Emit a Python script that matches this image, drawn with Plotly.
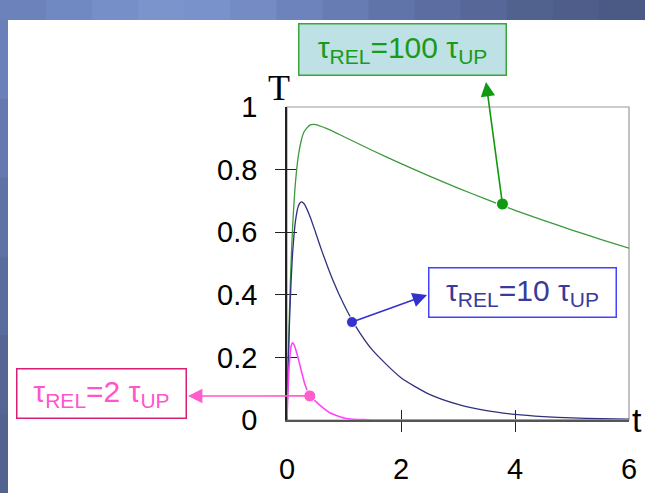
import plotly.graph_objects as go

# ---- data ----
green_t = [0, 0.01, 0.02, 0.03, 0.05, 0.07, 0.1, 0.15, 0.2, 0.25, 0.3, 0.4, 0.5, 0.7,
           1.0, 1.5, 2.0, 2.5, 3.0, 3.5, 4.0, 4.5, 5.0, 5.5, 6.0]
green_T = [0, 0.094, 0.179, 0.256, 0.389, 0.496, 0.622, 0.762, 0.845, 0.893, 0.921, 0.942,
           0.944, 0.931, 0.905, 0.861, 0.819, 0.779, 0.741, 0.705, 0.670, 0.638, 0.607,
           0.577, 0.549]

blue_t = [0, 0.01, 0.02, 0.03, 0.05, 0.07, 0.1, 0.15, 0.2, 0.25, 0.3, 0.4, 0.5, 0.6, 0.8,
          1.0, 1.2, 1.5, 2.0, 2.5, 3.0, 3.5, 4.0, 4.5, 5.0, 5.5, 6.0]
blue_T = [0, 0.085, 0.161, 0.229, 0.345, 0.435, 0.537, 0.638, 0.684, 0.697, 0.691, 0.652,
          0.600, 0.546, 0.449, 0.368, 0.301, 0.223, 0.135, 0.082, 0.050, 0.030, 0.018,
          0.011, 0.0067, 0.004, 0.0025]

pink_t = [0, 0.01, 0.02, 0.035, 0.05, 0.07, 0.1, 0.13, 0.17, 0.22, 0.31, 0.4, 0.5, 0.57,
          0.75, 1.04, 1.4, 2.0, 3.0, 4.0, 5.0, 6.0]
pink_T = [0, 0.06, 0.11, 0.165, 0.20, 0.235, 0.247, 0.238, 0.215, 0.18, 0.117, 0.077,
          0.060, 0.048, 0.023, 0.005, 0.001, 0, 0, 0, 0, 0]

dot_t = [3.78, 1.14, 0.40]
dot_T = [0.69, 0.313, 0.077]
labels = ["τ<sub>REL</sub>=100 τ<sub>UP</sub>",
          "τ<sub>REL</sub>=10 τ<sub>UP</sub>",
          "τ<sub>REL</sub>=2 τ<sub>UP</sub>"]
x_ticks = [0, 2, 4, 6]
y_ticks = [0, 0.2, 0.4, 0.6, 0.8, 1]
y_tick_text = ["0", "0.2", "0.4", "0.6", "0.8", "1"]

# ---- styling ----
W, H = 645, 493
ML, MR, MT, MB = 287, 16, 107, 73
PW, PH = W - ML - MR, H - MT - MB
FONT = "Liberation Sans, Arial, sans-serif"
EPS = 1e-4  # minor (outward) ticks sit on the major positions

def px2x(px):
    return (px - ML) / PW * 6.0

def py2y(py):
    return (H - MB - py) / PH * 1.0

def ppx(px):
    return (px - ML) / PW

def ppy(py):
    return (H - MB - py) / PH

fig = go.Figure()
fig.add_trace(go.Scatter(x=green_t, y=green_T, mode="lines", line=dict(color="#3c9a3c", width=1.3, shape="spline", smoothing=0.6), hoverinfo="skip"))
fig.add_trace(go.Scatter(x=blue_t, y=blue_T, mode="lines", line=dict(color="#30307f", width=1.3, shape="spline", smoothing=0.6), hoverinfo="skip"))
fig.add_trace(go.Scatter(x=pink_t, y=pink_T, mode="lines", line=dict(color="#ff44ff", width=1.6, shape="spline", smoothing=0.6), hoverinfo="skip"))
fig.add_trace(go.Scatter(x=dot_t, y=dot_T, mode="markers",
                         marker=dict(size=[12, 11, 12], opacity=1,
                                     color=["#119911", "#3333cc", "#ff5ccd"]),
                         hoverinfo="skip"))

shapes = []
top_cols = ["#6c82ba", "#7189c2", "#778fc8", "#7c94cc", "#7a92cb", "#748bc4", "#6d83bb",
            "#677cb3", "#6174aa", "#5b6da1", "#566798", "#52628f", "#4e5d89", "#4b5985"]
n = len(top_cols)
for i, c in enumerate(top_cols):
    shapes.append(dict(type="rect", xref="paper", yref="paper",
                       x0=ppx(i * W / n), x1=ppx((i + 1) * W / n + 1),
                       y0=ppy(20), y1=ppy(-2), fillcolor=c, line=dict(width=0), layer="below"))
left_cols = ["#6b80b8", "#6579b0", "#5f72a6", "#5a6c9e", "#556695", "#52638f"]
m = len(left_cols)
for i, c in enumerate(left_cols):
    shapes.append(dict(type="rect", xref="paper", yref="paper",
                       x0=ppx(-2), x1=ppx(8),
                       y0=ppy(20 + (i + 1) * (H - 20) / m + 1), y1=ppy(20 + i * (H - 20) / m),
                       fillcolor=c, line=dict(width=0), layer="below"))
shapes.append(dict(type="rect", xref="paper", yref="paper", x0=0, x1=1, y0=0, y1=1,
                   fillcolor="rgba(0,0,0,0)",
                   line=dict(color="#9a9a9a", width=1.2), layer="below"))

annotations = []
boxes = [
    dict(cx=402, cy=50, w=210, h=54, fc="#1a9a1a", bg="#bde1e4", bc="#3aa53a"),
    dict(cx=522, cy=292, w=190, h=52, fc="#3a3a9c", bg="#ffffff", bc="#4343ff"),
    dict(cx=101, cy=393, w=172, h=52, fc="#ff55cc", bg="#ffffff", bc="#d81e72"),
]
for lab, b in zip(labels, boxes):
    annotations.append(dict(text=lab, xref="paper", yref="paper", x=ppx(b["cx"]), y=ppy(b["cy"]),
                            xanchor="center", yanchor="middle", showarrow=False,
                            width=b["w"] - 6, height=b["h"] - 6, borderpad=1, borderwidth=1.5,
                            bordercolor=b["bc"], bgcolor=b["bg"],
                            font=dict(family=FONT, size=30, color=b["fc"])))

heads = [(486, 82), (427, 295), (188, 396)]
arrow_cols = ["#119911", "#3333cc", "#ff5ccd"]
for (hx, hy), t0, y0, c in zip(heads, dot_t, dot_T, arrow_cols):
    annotations.append(dict(text="", x=px2x(hx), y=py2y(hy), xref="x", yref="y",
                            ax=t0, ay=y0, axref="x", ayref="y", showarrow=True,
                            arrowhead=2, arrowsize=1.8, arrowwidth=1.6, arrowcolor=c,
                            standoff=0, startstandoff=0))

annotations.append(dict(text="T", xref="paper", yref="paper", x=ppx(279), y=ppy(88),
                        xanchor="center", yanchor="middle", showarrow=False,
                        font=dict(family="Liberation Serif, Times New Roman, serif", size=36, color="#000")))
annotations.append(dict(text="t", xref="paper", yref="paper", x=ppx(630), y=ppy(420),
                        xanchor="left", yanchor="middle", showarrow=False,
                        font=dict(family=FONT, size=34, color="#000")))

axis_common = dict(showgrid=False, zeroline=False, automargin=False, layer="below traces")
fig.update_layout(
    width=W, height=H, margin=dict(l=ML, r=MR, t=MT, b=MB, autoexpand=False),
    paper_bgcolor="white", plot_bgcolor="rgba(0,0,0,0)", showlegend=False,
    shapes=shapes, annotations=annotations,
    xaxis=dict(range=[0, 6], tickmode="array", tickvals=x_ticks, ticks="inside", ticklen=10,
               tickwidth=1.4, tickcolor="#222", showline=True, linecolor="#555", linewidth=1.5,
               tickfont=dict(family=FONT, size=29, color="#000"), ticklabelstandoff=22,
               minor=dict(tickmode="array", tickvals=[v + EPS for v in x_ticks], ticks="outside",
                          ticklen=10, tickwidth=1.4, tickcolor="#222", showgrid=False),
               **axis_common),
    yaxis=dict(range=[0, 1], tickmode="array", tickvals=y_ticks, ticktext=y_tick_text,
               ticks="inside", ticklen=10, tickwidth=1.4, tickcolor="#222", showline=True,
               linecolor="#222", linewidth=1.5,
               tickfont=dict(family=FONT, size=29, color="#000"), ticklabelstandoff=22,
               minor=dict(tickmode="array", tickvals=[v + EPS / 6 for v in y_ticks], ticks="outside",
                          ticklen=10, tickwidth=1.4, tickcolor="#222", showgrid=False),
               **axis_common),
)

fig.write_html("out.html", config={"displayModeBar": False},
               post_script="document.body.style.margin='0px';")
